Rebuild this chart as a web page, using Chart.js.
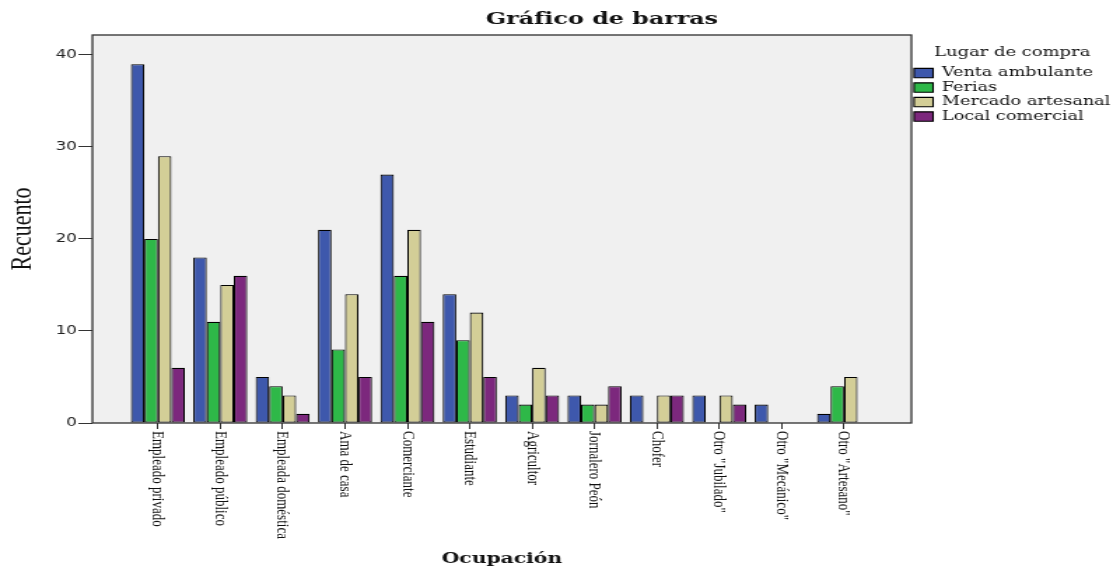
<!DOCTYPE html>
<html lang="es">
<head>
<meta charset="utf-8">
<title>Gráfico de barras</title>
<script src="https://cdn.jsdelivr.net/npm/chart.js@4.4.1/dist/chart.umd.min.js"></script>
<style>
  html, body { margin: 0; padding: 0; background: #fff; overflow: hidden; }
  #grafico { display: block; }
</style>
</head>
<body>
<!-- canvas is drawn narrow and stretched sideways, like the SPSS export -->
<canvas id="grafico" width="795" height="568" style="width:1113px;height:568px"></canvas>
<script>
const ocupaciones = [
  'Empleado privado', 'Empleado público', 'Empleada doméstica', 'Ama de casa',
  'Comerciante', 'Estudiante', 'Agricultor', 'Jornalero Peón', 'Chofer',
  'Otro "Jubilado"', 'Otro "Mecánico"', 'Otro "Artesano"'
];
const lugares = ['Venta ambulante', 'Ferias', 'Mercado artesanal', 'Local comercial'];
const ventaAmbulante   = [39, 18, 5, 21, 27, 14, 3, 3, 3, 3, 2, 1];
const ferias           = [20, 11, 4, 8, 16, 9, 2, 2, 0, 0, 0, 4];
const mercadoArtesanal = [29, 15, 3, 14, 21, 12, 6, 2, 3, 3, 0, 5];
const localComercial   = [6, 16, 1, 5, 11, 5, 3, 4, 3, 2, 0, 0];
const recuentoTicks = [0, 10, 20, 30, 40];

const colores = ['#3e58ac', '#2eb848', '#d3ce97', '#7c287d'];
const series = [ventaAmbulante, ferias, mercadoArtesanal, localComercial];

// grey plot background + dark frame around it
const plotFrame = {
  id: 'plotFrame',
  beforeDraw(chart) {
    const {ctx, chartArea: a} = chart;
    ctx.save();
    ctx.fillStyle = '#f0f0f0';
    ctx.fillRect(a.left, a.top, a.right - a.left, a.bottom - a.top);
    ctx.restore();
  },
  afterDatasetsDraw(chart) {
    const {ctx, chartArea: a} = chart;
    ctx.save();
    ctx.strokeStyle = '#2f2f2f';
    ctx.lineWidth = 1.3;
    ctx.strokeRect(a.left, a.top, a.right - a.left, a.bottom - a.top);
    ctx.restore();
  }
};

// category names run downward from each tick
const rotatedLabels = {
  id: 'rotatedLabels',
  afterDraw(chart) {
    const {ctx} = chart;
    const x = chart.scales.x;
    ctx.save();
    ctx.font = '13px "Liberation Serif"';
    ctx.fillStyle = '#111';
    ctx.textAlign = 'left';
    ctx.textBaseline = 'middle';
    ocupaciones.forEach((txt, i) => {
      ctx.save();
      ctx.translate(x.getPixelForValue(i), x.top + 8);
      ctx.rotate(Math.PI / 2);
      ctx.fillText(txt, 0, 0);
      ctx.restore();
    });
    ctx.restore();
  }
};

const heading = {
  id: 'heading',
  afterDraw(chart) {
    const {ctx} = chart;
    ctx.save();
    ctx.font = 'bold 17px "DejaVu Serif"';
    ctx.fillStyle = '#111';
    ctx.textAlign = 'center';
    ctx.textBaseline = 'middle';
    ctx.fillText('Gráfico de barras', 430, 20);
    ctx.restore();
  }
};

const datasets = series.map((vals, s) => ({
  label: lugares[s],
  data: vals.map((v, i) => ({x: i, y: v})),
  backgroundColor: colores[s],
  borderColor: '#000',
  borderWidth: 1.1,
  borderSkipped: false,
  categoryPercentage: 0.866,
  barPercentage: 1
}));

new Chart(document.getElementById('grafico'), {
  type: 'bar',
  data: { datasets },
  plugins: [plotFrame, rotatedLabels, heading],
  options: {
    responsive: false,
    devicePixelRatio: 1,
    animation: false,
    events: [],
    layout: { padding: { top: 35 } },
    scales: {
      x: {
        type: 'linear',
        offset: false,
        min: -1.05,
        max: 12.08,
        afterBuildTicks: s => { s.ticks = s.ticks.filter(t => t.value >= 0 && t.value < ocupaciones.length); },
        afterFit: s => { s.height = 145; },
        ticks: { stepSize: 1, includeBounds: false, display: false },
        grid: { offset: false, drawOnChartArea: false, drawTicks: true, tickLength: 6, color: '#333' },
        border: { display: false },
        title: {
          display: true,
          text: 'Ocupación',
          color: '#111',
          font: { family: 'DejaVu Serif', size: 14.5, weight: 'bold' },
          padding: { top: 0, bottom: 0 }
        }
      },
      y: {
        min: 0,
        max: 42.17,
        afterFit: s => { s.width = 66; },
        afterBuildTicks: s => { s.ticks = recuentoTicks.map(v => ({value: v})); },
        ticks: {
          includeBounds: false,
          padding: 1,
          color: '#222',
          font: { family: 'DejaVu Sans', size: 12 }
        },
        grid: { drawOnChartArea: false, drawTicks: true, tickLength: 10, color: '#333' },
        border: { display: false },
        title: {
          display: true,
          text: 'Recuento',
          color: '#111',
          font: { family: 'Liberation Serif', size: 22 },
          padding: { top: 3, bottom: 0 }
        }
      }
    },
    plugins: {
      tooltip: { enabled: false },
      legend: {
        position: 'right',
        align: 'start',
        maxWidth: 144,
        title: {
          display: true,
          text: 'Lugar de compra',
          color: '#111',
          font: { family: 'DejaVu Serif', size: 12.8 },
          padding: { top: 11.5, bottom: 3 }
        },
        labels: {
          color: '#111',
          font: { family: 'DejaVu Serif', size: 12.6 },
          boxWidth: 13.6,
          boxHeight: 9.4,
          padding: 1.9
        }
      }
    }
  }
});
</script>
</body>
</html>
